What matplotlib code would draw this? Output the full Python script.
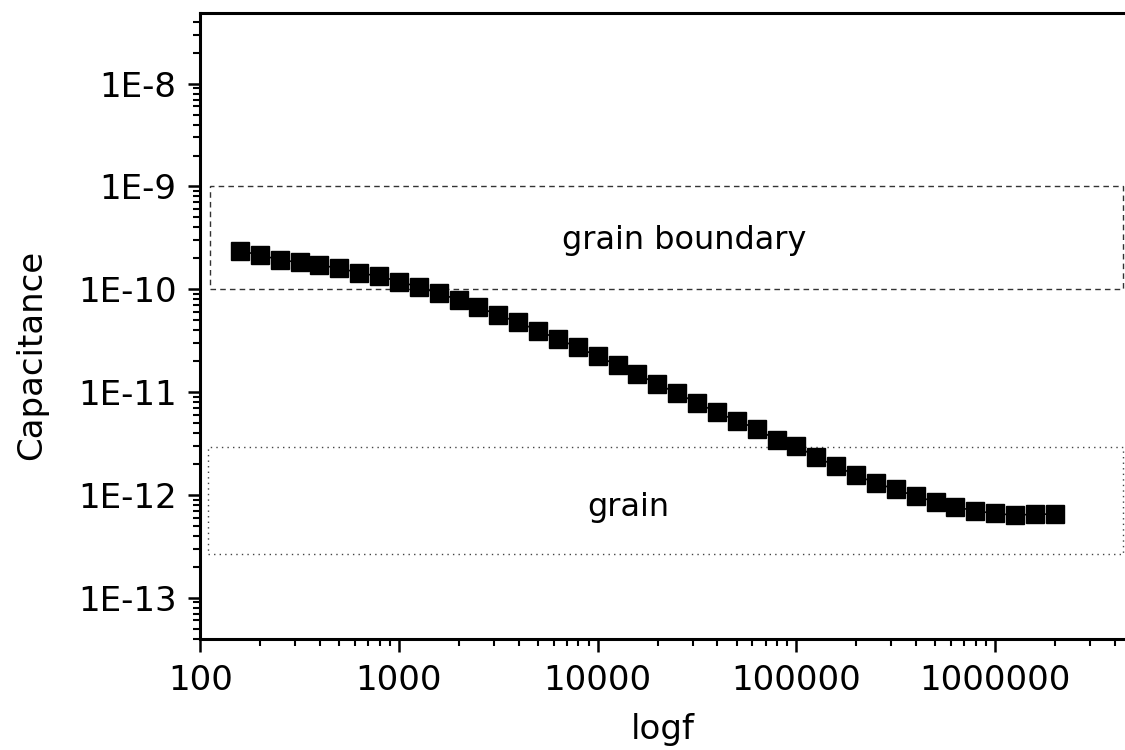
import matplotlib.pyplot as plt
from matplotlib.patches import Rectangle

plt.rcParams['font.family'] = ['DejaVu Sans']

# частоты (Гц) и ёмкость (Ф)
freq = [158, 200, 251, 316, 398, 501, 631, 794,
        1000, 1259, 1585, 1995, 2512, 3162, 3981, 5012, 6310, 7943,
        10000, 12589, 15849, 19953, 25119, 31623, 39811, 50119, 63096, 79433,
        100000, 125893, 158489, 199526, 251189, 316228, 398107, 501187, 630957, 794328,
        1000000, 1258925, 1584893, 1995262]
cap = [2.36e-10, 2.16e-10, 1.93e-10, 1.83e-10, 1.71e-10, 1.61e-10, 1.44e-10, 1.34e-10,
       1.19e-10, 1.05e-10, 9.15e-11, 7.87e-11, 6.68e-11, 5.62e-11, 4.77e-11, 3.96e-11, 3.28e-11, 2.72e-11,
       2.23e-11, 1.82e-11, 1.49e-11, 1.20e-11, 9.71e-12, 7.87e-12, 6.34e-12, 5.26e-12, 4.40e-12, 3.41e-12,
       2.98e-12, 2.33e-12, 1.90e-12, 1.55e-12, 1.30e-12, 1.13e-12, 9.7e-13, 8.55e-13, 7.64e-13, 6.98e-13,
       6.59e-13, 6.34e-13, 6.49e-13, 6.49e-13]

# области: (x0, x1, y0, y1)
gb_box = (112, 4.4e6, 1e-10, 1e-9)
grain_box = (110, 4.4e6, 2.65e-13, 2.93e-12)

fig = plt.figure(figsize=(11.25, 7.5), dpi=100)
ax = fig.add_axes([0.178, 0.148, 0.822, 0.835])

ax.plot(freq, cap, 'k-', lw=1.2, marker='s', ms=12.5, mfc='k', mec='k')

ax.add_patch(Rectangle((gb_box[0], gb_box[2]), gb_box[1] - gb_box[0], gb_box[3] - gb_box[2],
                       fill=False, ls=(0, (4, 3)), lw=1.0, ec='#333333'))
ax.add_patch(Rectangle((grain_box[0], grain_box[2]), grain_box[1] - grain_box[0], grain_box[3] - grain_box[2],
                       fill=False, ls=(0, (1, 3)), lw=1.0, ec='#444444'))
ax.text(27400, 2.95e-10, 'grain boundary', fontsize=23, ha='center', va='center')
ax.text(14200, 7.6e-13, 'grain', fontsize=23, ha='center', va='center')

ax.set_xscale('log')
ax.set_yscale('log')
ax.set_xlim(100, 4.5e6)
ax.set_ylim(3.96e-14, 4.9e-8)

ax.set_xticks([100, 1000, 10000, 100000, 1000000])
ax.set_xticklabels(['100', '1000', '10000', '100000', '1000000'])
ax.set_yticks([1e-13, 1e-12, 1e-11, 1e-10, 1e-9, 1e-8])
ax.set_yticklabels(['1E-13', '1E-12', '1E-11', '1E-10', '1E-9', '1E-8'])

ax.tick_params(which='major', direction='out', length=9, width=1.8, labelsize=24.5)
ax.tick_params(axis='x', which='major', pad=9)
ax.tick_params(axis='y', which='major', pad=8)
ax.tick_params(which='minor', direction='out', length=5, width=1.5)
ax.tick_params(top=False, right=False, which='both')

for s in ['left', 'bottom', 'top']:
    ax.spines[s].set_linewidth(2.2)
ax.spines['right'].set_visible(False)

ax.set_xlabel('logf', fontsize=24.5)
ax.set_ylabel('Capacitance', fontsize=24.5)
ax.xaxis.set_label_coords(0.5, -0.118)
ax.yaxis.set_label_coords(-0.165, 0.454)

plt.savefig('out.png', dpi=100)
